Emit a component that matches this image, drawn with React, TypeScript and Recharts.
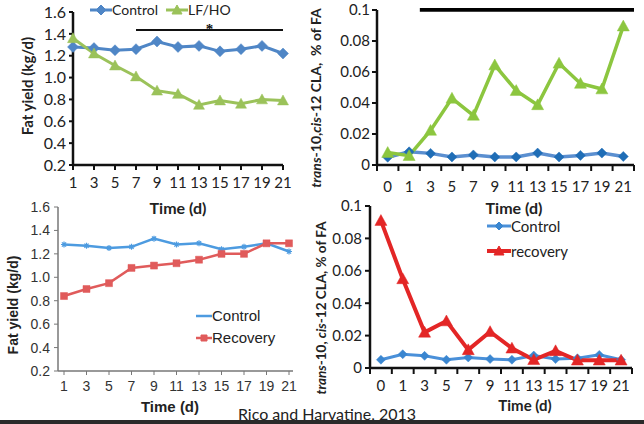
import React from "react";
import {
  LineChart,
  Line,
  XAxis,
  YAxis,
  Legend,
  ReferenceLine,
  ReferenceArea,
} from "recharts";

// Fat yield panels (kg/d), days 1..21
const fatDays = ["1", "3", "5", "7", "9", "11", "13", "15", "17", "19", "21"];
const fatControl = [1.28, 1.27, 1.25, 1.26, 1.33, 1.28, 1.29, 1.24, 1.26, 1.29, 1.22];
const fatLfho = [1.36, 1.22, 1.11, 1.01, 0.88, 0.85, 0.75, 0.79, 0.76, 0.8, 0.79];
const fatRecovery = [0.84, 0.9, 0.95, 1.08, 1.1, 1.12, 1.15, 1.2, 1.2, 1.29, 1.29];
const fatTicks = [0.2, 0.4, 0.6, 0.8, 1.0, 1.2, 1.4, 1.6];

// trans-10, cis-12 CLA panels (% of FA), days 0..21
const claDays = ["0", "1", "3", "5", "7", "9", "11", "13", "15", "17", "19", "21"];
const claControl = [0.005, 0.0085, 0.0075, 0.0052, 0.0065, 0.0052, 0.0052, 0.0077, 0.0052, 0.0062, 0.0077, 0.0055];
const claLfho = [0.008, 0.006, 0.0223, 0.043, 0.032, 0.0645, 0.048, 0.0388, 0.0656, 0.0526, 0.049, 0.0896];
const claControl2 = [0.0051, 0.0085, 0.0075, 0.0051, 0.0065, 0.0055, 0.0051, 0.0077, 0.0055, 0.006, 0.0081, 0.0051];
const claRecovery = [0.091, 0.055, 0.022, 0.029, 0.0112, 0.0224, 0.0122, 0.0051, 0.0106, 0.0048, 0.0048, 0.0048];
const claTicks = [0, 0.02, 0.04, 0.06, 0.08, 0.1];

const fatTop = fatDays.map((d, i) => ({ day: d, control: fatControl[i], lfho: fatLfho[i] }));
const fatBottom = fatDays.map((d, i) => ({ day: d, control: fatControl[i], recovery: fatRecovery[i] }));
const claTop = claDays.map((d, i) => ({ day: d, control: claControl[i], lfho: claLfho[i] }));
const claBottom = claDays.map((d, i) => ({ day: d, control: claControl2[i], recovery: claRecovery[i] }));

const CAL = "Lato, 'DejaVu Sans', sans-serif";
const ARIAL = "'Liberation Sans', Arial, sans-serif";

type Shape = "diamond" | "triangle" | "square" | "star";

function markerPath(shape: Shape, cx: number, cy: number, r: number) {
  if (shape === "diamond") return `M${cx},${cy - r}L${cx + r},${cy}L${cx},${cy + r}L${cx - r},${cy}Z`;
  if (shape === "triangle") return `M${cx},${cy - r}L${cx + r},${cy + r * 0.8}L${cx - r},${cy + r * 0.8}Z`;
  if (shape === "star")
    return `M${cx - r},${cy}L${cx + r},${cy}M${cx},${cy - r}L${cx},${cy + r}M${cx - r * 0.7},${cy - r * 0.7}L${cx + r * 0.7},${cy + r * 0.7}M${cx - r * 0.7},${cy + r * 0.7}L${cx + r * 0.7},${cy - r * 0.7}`;
  return `M${cx - r},${cy - r}H${cx + r}V${cy + r}H${cx - r}Z`;
}

const dotFn = (shape: Shape, fill: string, r: number) => (p: any) => {
  if (p.cx == null || p.cy == null) return <g key={`e-${p.index}`} />;
  return (
    <path
      key={`d-${p.index}`}
      d={markerPath(shape, p.cx, p.cy, r)}
      fill={shape === "star" ? "none" : fill}
      stroke={fill}
      strokeWidth={shape === "star" ? 1.2 : 0.5}
    />
  );
};

type LegendItem = { name: string; color: string; marker: string; shape: Shape; r: number; width: number };

const legendContent = (items: LegendItem[], vertical: boolean, font: string, size: number, gap: number, sample: number) => () => (
  <div style={{ display: "flex", flexDirection: vertical ? "column" : "row", gap, fontFamily: font, fontSize: size, color: "#222" }}>
    {items.map((it) => (
      <div key={it.name} style={{ display: "flex", alignItems: "center", lineHeight: 1.1 }}>
        <svg width={sample} height={12} style={{ display: "block" }}>
          <line x1={0} x2={sample} y1={6} y2={6} stroke={it.color} strokeWidth={it.width} />
          <path d={markerPath(it.shape, sample / 2, 6, it.r)} fill={it.marker} stroke={it.marker} />
        </svg>
        <span>{it.name}</span>
      </div>
    ))}
  </div>
);

// x tick with tick mark on the category boundary (Excel "between tick marks")
const edgeTick = (step: number, font: string, size: number, offset: number, stroke: string, sw: number) => (p: any) => {
  const { x, y, payload, index, visibleTicksCount } = p;
  const last = index === visibleTicksCount - 1;
  return (
    <g key={`t-${index}`}>
      <line x1={x - step / 2} x2={x - step / 2} y1={y} y2={y + 6} stroke={stroke} strokeWidth={sw} />
      {last && <line x1={x + step / 2} x2={x + step / 2} y1={y} y2={y + 6} stroke={stroke} strokeWidth={sw} />}
      <text x={x} y={y + offset} textAnchor="middle" fontFamily={font} fontSize={size} fill="#222">
        {payload.value}
      </text>
    </g>
  );
};

const abs = (left: number, top: number): React.CSSProperties => ({ position: "absolute", left, top });

function VLabel({ x, y, size, font, children }: { x: number; y: number; size: number; font: string; children: React.ReactNode }) {
  return (
    <div
      style={{
        position: "absolute",
        left: x,
        top: y,
        transform: "translate(-50%, -50%) rotate(-90deg)",
        whiteSpace: "nowrap",
        fontFamily: font,
        fontSize: size,
        fontWeight: 700,
        color: "#222",
        lineHeight: 1,
      }}
    >
      {children}
    </div>
  );
}

function Title({ x, y, size, font, children }: { x: number; y: number; size: number; font: string; children: React.ReactNode }) {
  return (
    <div
      style={{
        position: "absolute",
        left: x,
        top: y,
        transform: "translate(-50%, -50%)",
        whiteSpace: "nowrap",
        fontFamily: font,
        fontSize: size,
        fontWeight: 700,
        color: "#222",
        lineHeight: 1,
      }}
    >
      {children}
    </div>
  );
}

export default function App() {
  const blue = "#4f86c6";
  const green = "#9bc25a";
  return (
    <div style={{ position: "fixed", left: 0, top: 0, width: 644, height: 424, background: "#fff", overflow: "hidden" }}>
      {/* top-left: fat yield, Control vs LF/HO */}
      <div style={abs(0, 0)}>
        <LineChart width={300} height={200} data={fatTop} margin={{ top: 12, right: 17, bottom: 5, left: 0 }}>
          <XAxis
            dataKey="day"
            axisLine={{ stroke: "#111", strokeWidth: 2.5 }}
            tickLine={{ stroke: "#111", strokeWidth: 2 }}
            tickSize={5}
            tickMargin={7}
            interval={0}
            tick={{ fill: "#222", fontSize: 15, fontFamily: CAL }}
          />
          <YAxis
            width={73}
            domain={[0.2, 1.6]}
            ticks={fatTicks}
            interval={0}
            tickFormatter={(v: number) => v.toFixed(1)}
            axisLine={{ stroke: "#111", strokeWidth: 2.5 }}
            tickLine={{ stroke: "#111", strokeWidth: 2 }}
            tickSize={4}
            tickMargin={3}
            tick={{ fill: "#222", fontSize: 16, fontFamily: CAL }}
          />
          <ReferenceLine
            segment={[{ x: "7", y: 1.435 }, { x: "21", y: 1.435 }]}
            stroke="#111"
            strokeWidth={2}
            label={{ value: "*", position: "top", fill: "#111", fontSize: 15, fontWeight: 700, offset: -4 }}
          />
          <Legend
            verticalAlign="middle"
            align="center"
            wrapperStyle={{ left: 90, top: 2, width: "auto" }}
            content={legendContent(
              [
                { name: "Control", color: blue, marker: blue, shape: "diamond", r: 5, width: 3 },
                { name: "LF/HO", color: green, marker: green, shape: "triangle", r: 5, width: 3 },
              ],
              false,
              CAL,
              14,
              8,
              22
            )}
          />
          <Line dataKey="control" name="Control" stroke={blue} strokeWidth={3} dot={dotFn("diamond", blue, 5.5)} isAnimationActive={false} />
          <Line dataKey="lfho" name="LF/HO" stroke={green} strokeWidth={3} dot={dotFn("triangle", green, 5.5)} isAnimationActive={false} />
        </LineChart>
      </div>

      {/* top-right: CLA, Control vs LF/HO */}
      <div style={abs(322, 0)}>
        <LineChart width={322} height={200} data={claTop} margin={{ top: 10, right: 10, bottom: 5, left: 0 }}>
          <XAxis
            dataKey="day"
            scale="band"
            axisLine={{ stroke: "#111", strokeWidth: 2.5 }}
            tickLine={false}
            tickSize={0}
            tickMargin={0}
            interval={0}
            tick={edgeTick(257 / 12, CAL, 15, 27, "#111", 2)}
          />
          <YAxis
            width={55}
            domain={[0, 0.1]}
            ticks={claTicks}
            interval={0}
            tickFormatter={(v: number) => (v === 0 ? "0" : String(v))}
            axisLine={{ stroke: "#111", strokeWidth: 2.5 }}
            tickLine={{ stroke: "#111", strokeWidth: 2 }}
            tickSize={5}
            tickMargin={2}
            tick={{ fill: "#222", fontSize: 15, fontFamily: CAL }}
          />
          <ReferenceArea x1="3" x2="21" y1={0.0988} y2={0.1013} fill="#000" fillOpacity={1} stroke="none" ifOverflow="visible" />
          <Line dataKey="control" stroke="#5b8fd0" strokeWidth={3.5} dot={dotFn("diamond", "#1f6db6", 5)} isAnimationActive={false} />
          <Line dataKey="lfho" stroke="#8cc63f" strokeWidth={3.5} dot={dotFn("triangle", "#8cc63f", 6)} isAnimationActive={false} />
        </LineChart>
      </div>

      {/* bottom-left: fat yield, Control vs Recovery */}
      <div style={abs(0, 200)}>
        <LineChart width={300} height={220} data={fatBottom} margin={{ top: 7, right: 7, bottom: 19, left: 0 }}>
          <XAxis
            dataKey="day"
            padding={{ left: 6, right: 4 }}
            axisLine={{ stroke: "#777", strokeWidth: 1.5 }}
            tickLine={{ stroke: "#777", strokeWidth: 1 }}
            tickSize={4}
            tickMargin={6}
            interval={0}
            tick={{ fill: "#333", fontSize: 14, fontFamily: ARIAL }}
          />
          <YAxis
            width={58}
            domain={[0.2, 1.6]}
            ticks={fatTicks}
            interval={0}
            tickFormatter={(v: number) => v.toFixed(1)}
            axisLine={{ stroke: "#777", strokeWidth: 1.5 }}
            tickLine={{ stroke: "#777", strokeWidth: 1 }}
            tickSize={4}
            tickMargin={4}
            tick={{ fill: "#333", fontSize: 14, fontFamily: ARIAL }}
          />
          <Legend
            verticalAlign="middle"
            align="center"
            wrapperStyle={{ left: 196, top: 108, width: "auto" }}
            content={legendContent(
              [
                { name: "Control", color: "#4d9be0", marker: "#4d9be0", shape: "star", r: 0, width: 2.5 },
                { name: "Recovery", color: "#e05b5b", marker: "#e05b5b", shape: "square", r: 3, width: 2.5 },
              ],
              true,
              ARIAL,
              15,
              5,
              16
            )}
          />
          <Line dataKey="control" name="Control" stroke="#4d9be0" strokeWidth={2.5} dot={dotFn("star", "#4d9be0", 3)} isAnimationActive={false} />
          <Line dataKey="recovery" name="Recovery" stroke="#e05b5b" strokeWidth={2.5} dot={dotFn("square", "#e05b5b", 3.5)} isAnimationActive={false} />
        </LineChart>
      </div>

      {/* bottom-right: CLA, Control vs recovery */}
      <div style={abs(322, 196)}>
        <LineChart width={322} height={224} data={claBottom} margin={{ top: 10, right: 12, bottom: 22, left: 0 }}>
          <XAxis
            dataKey="day"
            scale="band"
            axisLine={{ stroke: "#111", strokeWidth: 2.5 }}
            tickLine={false}
            tickSize={0}
            tickMargin={0}
            interval={0}
            tick={edgeTick(262 / 12, CAL, 15, 23, "#111", 2)}
          />
          <YAxis
            width={48}
            domain={[0, 0.1]}
            ticks={claTicks}
            interval={0}
            tickFormatter={(v: number) => (v === 0 ? "0" : String(v))}
            axisLine={{ stroke: "#111", strokeWidth: 2.5 }}
            tickLine={{ stroke: "#111", strokeWidth: 2 }}
            tickSize={5}
            tickMargin={3}
            tick={{ fill: "#222", fontSize: 15, fontFamily: CAL }}
          />
          <Legend
            verticalAlign="middle"
            align="center"
            wrapperStyle={{ left: 165, top: 22, width: "auto" }}
            content={legendContent(
              [
                { name: "Control", color: "#4a90d9", marker: "#3a86d0", shape: "diamond", r: 4, width: 3 },
                { name: "recovery", color: "#e32626", marker: "#e32626", shape: "triangle", r: 5, width: 4 },
              ],
              true,
              CAL,
              15,
              8,
              24
            )}
          />
          <Line dataKey="control" name="Control" stroke="#4a90d9" strokeWidth={3} dot={dotFn("diamond", "#3a86d0", 4.5)} isAnimationActive={false} />
          <Line dataKey="recovery" name="recovery" stroke="#e32626" strokeWidth={4} dot={dotFn("triangle", "#e32626", 6)} isAnimationActive={false} />
        </LineChart>
      </div>

      {/* axis titles */}
      <VLabel x={27} y={86} size={15} font={CAL}>Fat yield (kg/d)</VLabel>
      <VLabel x={13} y={305} size={14} font={ARIAL}>Fat yield (kg/d)</VLabel>
      <VLabel x={316} y={98} size={14} font={CAL}>
        <i>trans</i>-10,<i>cis</i>-12 CLA,&nbsp; % of FA
      </VLabel>
      <VLabel x={322} y={308} size={13.5} font={CAL}>
        <i>trans</i>-10, <i>cis</i>-12 CLA, % of FA
      </VLabel>
      <Title x={178} y={208} size={16} font={CAL}>Time (d)</Title>
      <Title x={514} y={208} size={16} font={CAL}>Time (d)</Title>
      <Title x={170} y={406} size={15} font={ARIAL}>Time (d)</Title>
      <Title x={525} y={405} size={15} font={CAL}>Time (d)</Title>

      <div
        style={{
          position: "absolute",
          left: 327,
          top: 414,
          transform: "translate(-50%, -50%)",
          fontFamily: CAL,
          fontSize: 16,
          color: "#222",
          whiteSpace: "nowrap",
          lineHeight: 1,
        }}
      >
        Rico and Harvatine, 2013
      </div>
      <div style={{ position: "absolute", left: 0, top: 420, width: 644, height: 4, background: "#2a2a2a" }} />
    </div>
  );
}
